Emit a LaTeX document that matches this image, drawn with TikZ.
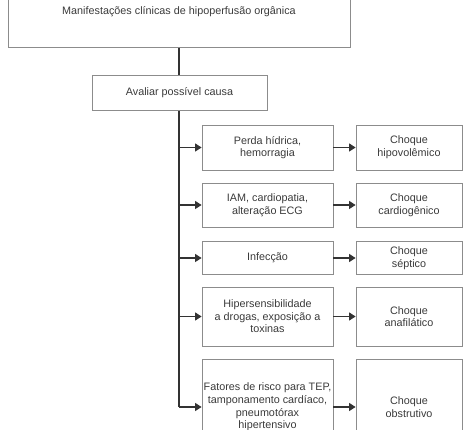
\documentclass[tikz,border=0pt]{standalone}
\usepackage{fontspec}
\setmainfont{Liberation Sans}
\usetikzlibrary{arrows.meta}
\definecolor{boxc}{HTML}{8C8C8C}
\definecolor{linec}{HTML}{333333}
\definecolor{textc}{HTML}{3A3A3A}
\begin{document}
\begin{tikzpicture}[x=1pt,y=-1pt,
  box/.style={draw=boxc,line width=0.8pt,rectangle,inner sep=0pt,align=center,
    text=textc,font=\fontsize{10.8}{12.6}\selectfont},
  mid/.style={box,minimum width=131pt},
  res/.style={box,minimum width=106pt},
  conn/.style={draw=linec,line width=1.1pt},
  arr/.style={conn,-{Triangle[length=6.5pt,width=8pt]}}]
\useasboundingbox (0,0) rectangle (474,430);
\clip (0,0) rectangle (474,430);
\node[box,minimum width=342pt,minimum height=70.6pt] (top) at (179,12) {Manifestações clínicas de hipoperfusão orgânica};
\node[box,minimum width=175pt,minimum height=35.7pt] (eval) at (179.5,93) {Avaliar possível causa};
\node[mid,minimum height=45pt] (m1) at (267.5,147.5) {Perda hídrica,\\hemorragia};
\node[res,minimum height=45pt] (r1) at (409,147.5) {Choque\\hipovolêmico};
\node[mid,minimum height=44pt] (m2) at (267.5,205) {IAM, cardiopatia,\\alteração ECG};
\node[res,minimum height=44pt] (r2) at (409,205) {Choque\\cardiogênico};
\node[mid,minimum height=33pt] (m3) at (267.5,258) {Infecção};
\node[res,minimum height=33pt] (r3) at (409,258) {Choque\\séptico};
\node[mid,minimum height=59pt] (m4) at (267.5,316.5) {Hipersensibilidade\\a drogas, exposição a\\toxinas};
\node[res,minimum height=59pt] (r4) at (409,316.5) {Choque\\anafilático};
\node[mid,minimum height=96pt] (m5) at (267.5,407) {Fatores de risco para TEP,\\tamponamento cardíaco,\\pneumotórax\\hipertensivo};
\node[res,minimum height=96pt] (r5) at (409,407) {Choque\\obstrutivo};
\coordinate (tend) at (179,407);
\draw[conn] (top.south -| tend) -- (eval.north -| tend);
\draw[conn] (eval.south -| tend) -- (tend);
\foreach \i in {1,...,5}{
  \draw[arr] (tend |- m\i.west) -- (m\i.west);
  \draw[arr] (m\i.east) -- (r\i.west);
}
\end{tikzpicture}
\end{document}
